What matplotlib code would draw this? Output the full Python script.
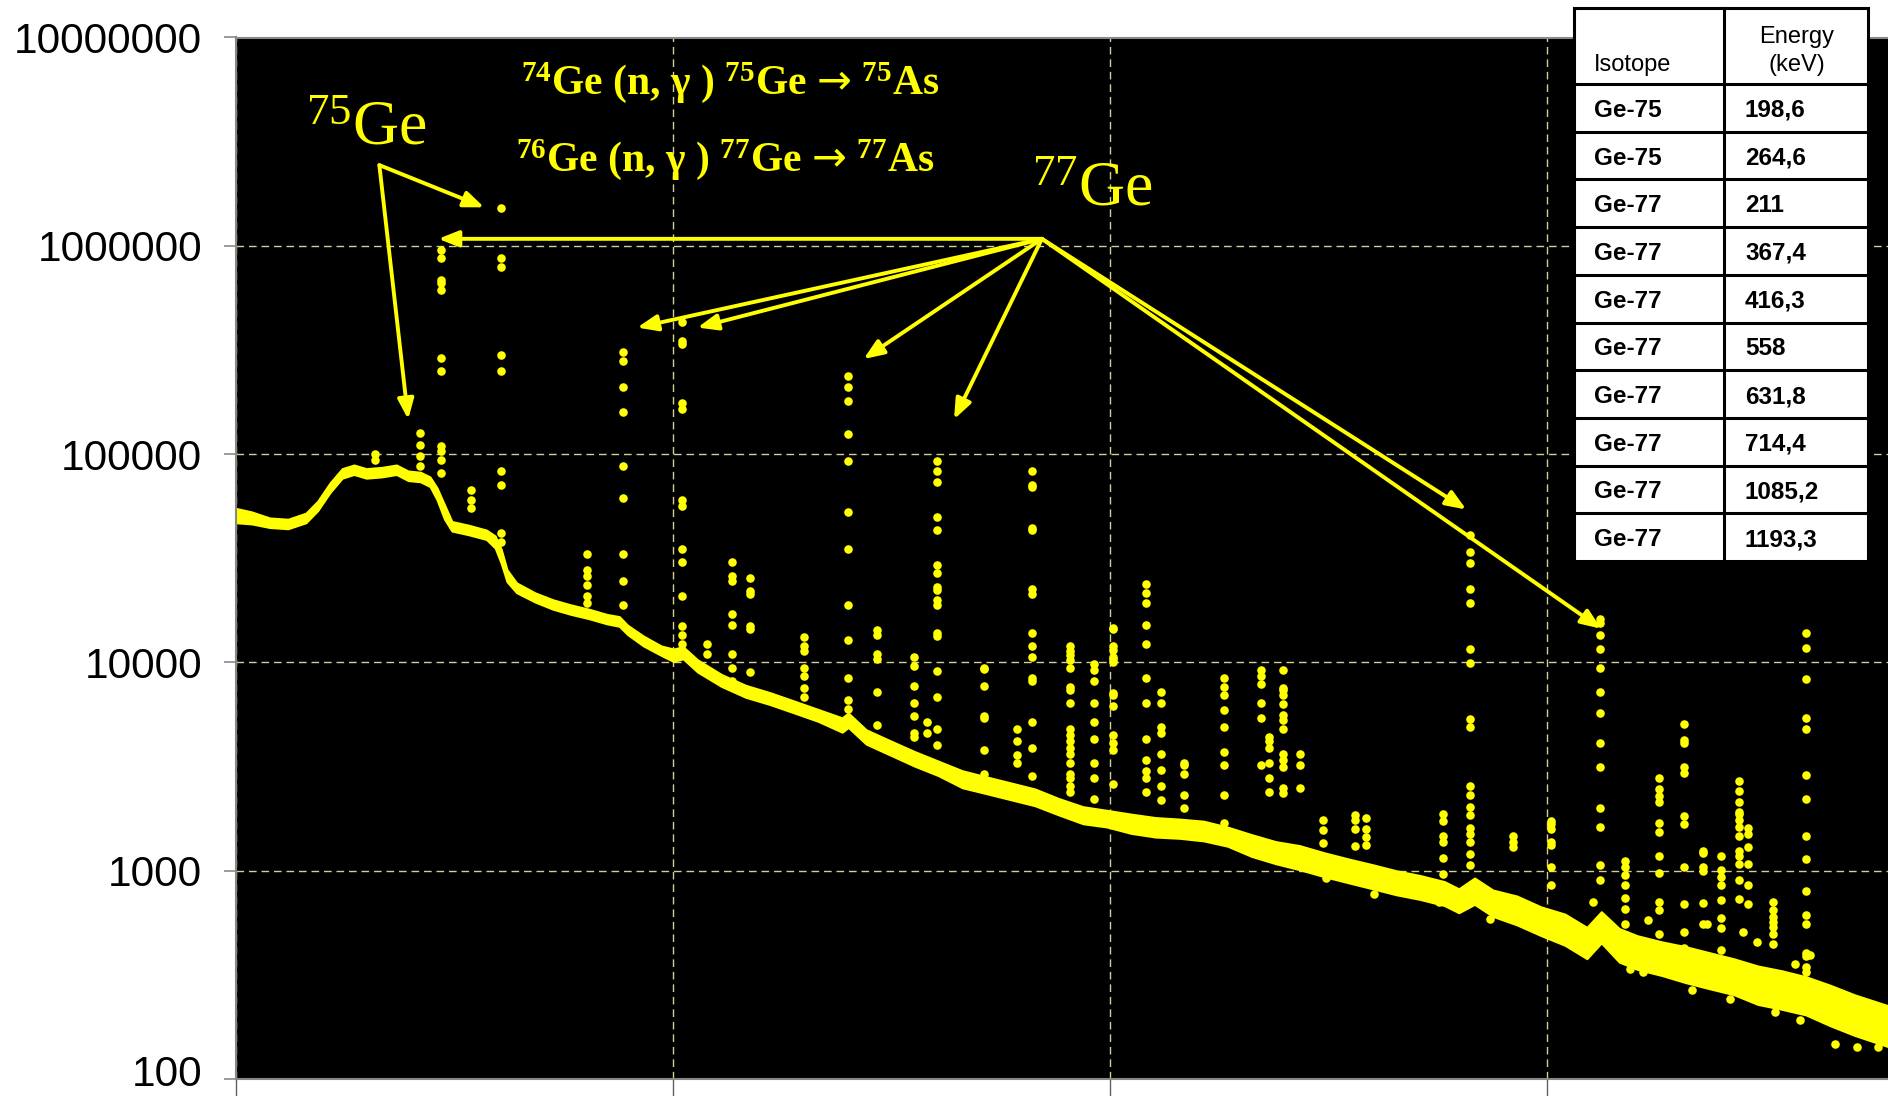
import matplotlib
matplotlib.use('Agg')
import matplotlib.pyplot as plt
from matplotlib.patches import Rectangle
from matplotlib.lines import Line2D
from matplotlib.ticker import FixedLocator, NullLocator, NullFormatter
from matplotlib.transforms import offset_copy

plt.rcParams['mathtext.fontset'] = 'custom'
plt.rcParams['mathtext.rm'] = 'Liberation Serif'
plt.rcParams['mathtext.it'] = 'Liberation Serif:italic'
plt.rcParams['mathtext.bf'] = 'Liberation Serif:bold'
plt.rcParams['mathtext.sf'] = 'DejaVu Sans'

# ---------------- data ----------------
# continuum band of the gamma spectrum: channel, lower / upper edge (counts)
band_ch = [0, 36, 77, 119, 160, 187, 215, 243, 270, 298, 334, 367, 394, 422, 444, 460, 477, 494, 532, 573,
           593, 607, 620, 642, 684, 725, 766, 808, 849, 877, 896, 932, 973, 1001, 1023, 1056, 1111, 1166, 1221, 1277,
           1332, 1387, 1401, 1442, 1497, 1552, 1607, 1662, 1718, 1773, 1828, 1883, 1938, 1993, 2048, 2104, 2159, 2214, 2269, 2324,
           2379, 2434, 2490, 2545, 2600, 2655, 2710, 2765, 2798, 2834, 2876, 2931, 2986, 3041, 3091, 3124, 3165, 3206, 3262, 3317,
           3372, 3427, 3482, 3537, 3592, 3648, 3703, 3780]
band_lo = [46800, 46200, 44400, 43800, 46800, 53500, 65300, 76600, 79800, 76600, 77700, 79800, 74600, 73600, 69800, 60300, 48700, 42700, 41000, 38900,
           35400, 29800, 24400, 21600, 19500, 18000, 17000, 16200, 15300, 14900, 13600, 12000, 10800, 10100, 10400, 8990, 7660, 6800, 6280, 5720,
           5210, 4620, 4870, 4050, 3590, 3180, 2860, 2500, 2340, 2190, 2050, 1850, 1680, 1620, 1510, 1450, 1430, 1390, 1310, 1170,
           1080, 1010, 936, 875, 819, 766, 727, 680, 628, 689, 603, 549, 488, 438, 378, 450, 364, 336, 314, 290,
           271, 254, 228, 216, 203, 180, 162, 143]
band_hi = [54900, 52800, 49400, 48700, 52100, 59500, 72700, 85200, 88700, 85200, 86400, 88700, 83000, 81900, 77700, 68900, 57200, 47500, 45600, 43200,
           40500, 34900, 27900, 24100, 21600, 20000, 18900, 18000, 17000, 16600, 15100, 13400, 12000, 11600, 11900, 10300, 8750, 7770, 7170, 6530,
           5950, 5420, 5720, 4750, 4210, 3740, 3360, 3020, 2820, 2640, 2470, 2220, 2030, 1950, 1870, 1800, 1770, 1730, 1620, 1490,
           1380, 1320, 1220, 1140, 1070, 1000, 948, 887, 819, 923, 808, 756, 671, 619, 535, 636, 528, 488, 456, 432,
           404, 378, 349, 331, 310, 282, 254, 225]

# peaks: channel and the counts of the dots in each peak column
peak_ch = [317, 422, 469, 538, 607, 802, 885, 1020, 1078, 1136,
           1177, 1300, 1401, 1467, 1552, 1580, 1603, 1712, 1787, 1822,
           1908, 1964, 2007, 2083, 2117, 2170, 2261, 2346, 2363, 2396,
           2434, 2487, 2561, 2586, 2762, 2823, 2922, 3008, 3121, 3179,
           3255, 3313, 3357, 3397, 3438, 3460, 3517, 3592]
peak_counts = [
    [100000, 94000],
    [126000, 111000, 97600, 87800],
    [957000, 873000, 684000, 662000, 612000, 290000, 251000, 109000, 103000, 93600, 81000],
    [67000, 60000, 55000],
    [1520000, 873000, 794000, 299000, 251000, 82600, 71300, 41800, 38000],
    [33000, 27700, 26000, 23500, 20800, 19200],
    [309000, 281000, 209000, 160000, 87700, 61500, 33000, 24500, 18800],
    [430000, 349000, 338000, 175000, 165000, 60300, 56400, 34900, 30200, 20800, 14900, 13600, 12300],
    [12300, 11000],
    [30200, 26000, 24500, 17000, 15100, 11000, 9400, 8100],
    [25400, 22000, 21200, 14900, 14500, 9000],
    [13200, 12000, 11300, 9400, 8600, 7500, 6800],
    [236000, 209000, 180000, 125000, 93000, 53000, 34900, 18800, 12800, 8400, 6600, 6000],
    [14300, 13500, 11000, 10400, 7200, 5000],
    [10600, 9600, 7700, 6400, 5500, 4600, 4400],
    [5200, 4600],
    [93000, 82600, 73500, 49900, 43200, 29200, 26800, 23100, 22200, 20000, 18800, 13800, 13400, 9100, 6800, 4800, 4000],
    [9400, 9300, 7700, 5500, 5400, 3800, 2900],
    [4800, 4200, 3600, 3300],
    [83000, 71000, 69700, 44000, 43000, 22400, 21200, 13900, 12000, 10600, 8400, 8100, 5200, 3900, 2860],
    [12000, 11300, 10900, 10300, 9400, 7600, 7400, 6400, 4800, 4500, 4200, 3900, 3650, 3300, 2900, 2800, 2550, 2400],
    [9800, 9200, 8100, 6400, 5200, 4300, 3300, 2800, 2200],
    [14700, 14400, 12000, 11500, 10600, 10400, 10000, 7100, 7000, 6200, 4500, 4100, 3800, 2600],
    [23800, 21600, 19300, 15200, 12300, 8400, 6400, 4300, 3400, 3000, 2800, 2400],
    [7200, 6400, 4900, 4600, 3650, 3060, 2550, 2180],
    [3300, 3200, 2900, 2300, 2000],
    [8400, 7600, 7000, 5900, 4900, 3700, 3200, 2300, 1700],
    [9200, 8600, 7900, 6400, 5400, 3200],
    [4400, 4200, 3900, 3300, 2800, 2400],
    [9200, 7500, 7400, 7000, 6300, 5600, 5300, 4800, 3650, 3400, 3150, 2500, 2350],
    [3650, 3200, 2500],
    [1750, 1560, 1360],
    [1850, 1750, 1580, 1310],
    [1800, 1580, 1450, 1330],
    [1880, 1730, 1460, 1380, 1150, 960],
    [40700, 34000, 30000, 22400, 19300, 11600, 9980, 5360, 4900, 2550, 2320, 2020, 1850, 1600, 1500, 1380, 1200, 1070],
    [1460, 1380, 1300],
    [1730, 1680, 1580, 1380, 1330, 1040, 850],
    [16100, 15500, 13500, 11600, 9400, 7200, 5700, 4100, 3150, 2000, 1630, 1070, 900],
    [1110, 1040, 953, 853, 736, 658, 557],
    [2800, 2480, 2280, 2140, 1690, 1540, 1170, 980, 708, 646, 496],
    [5050, 4240, 4110, 3130, 2940, 1830, 1670, 1040, 689, 508, 426],
    [1250, 1210, 1040, 995, 701, 557],
    [1170, 1010, 935, 853, 726, 594, 528, 415],
    [2690, 2410, 2140, 1910, 1880, 1750, 1630, 1460, 1250, 1170, 1080, 900, 730],
    [1600, 1500, 1300, 1080, 853, 695],
    [708, 646, 600, 568, 537, 499, 447],
    [13900, 11700, 8300, 5400, 4800, 2870, 2200, 1460, 1140, 798, 611, 557, 403, 389, 345, 327],
]

# isolated dots around the continuum
extra_ch = [3189, 3220, 3331, 3418, 3522, 3579, 3659, 3709, 3758, 3105, 3231, 3365, 3449, 3480, 3567, 3602,
            2493, 2604, 2869, 2999, 2753]
extra_counts = [339, 327, 267, 243, 210, 191, 147, 143, 143, 708, 578, 557, 508, 455, 358, 393,
                927, 776, 589, 495, 708]

y_ticks = [100, 1000, 10000, 100000, 1000000, 10000000]
y_ticklabels = ['100', '1000', '10000', '100000', '1000000', '10000000']
x_ticks = [0, 1000, 2000, 3000]

table_isotopes = ['Ge-75', 'Ge-75', 'Ge-77', 'Ge-77', 'Ge-77', 'Ge-77', 'Ge-77', 'Ge-77', 'Ge-77', 'Ge-77']
table_energies = ['198,6', '264,6', '211', '367,4', '416,3', '558', '631,8', '714,4', '1085,2', '1193,3']

# ---------------- figure ----------------
W, H = 1888, 1096
YEL = '#FFFF00'
fig = plt.figure(figsize=(W / 100, H / 100), dpi=100)
fig.patch.set_facecolor('white')
ax = fig.add_axes([236 / W, 17 / H, 1 - 236 / W, (1079 - 37.5) / H])
ax.set_facecolor('black')
ax.set_yscale('log')
ax.set_ylim(100, 1e7)
ax.set_xlim(0, 3780)

ax.yaxis.set_major_locator(FixedLocator(y_ticks))
ax.yaxis.set_major_formatter(NullFormatter())
ax.yaxis.set_minor_locator(NullLocator())
ax.yaxis.set_minor_formatter(NullFormatter())
ax.xaxis.set_major_locator(FixedLocator(x_ticks))
ax.xaxis.set_major_formatter(NullFormatter())
ax.xaxis.set_minor_locator(NullLocator())
ax.tick_params(axis='y', direction='out', length=8.5, width=1.1, color='#808080')
ax.tick_params(axis='x', direction='out', length=12, width=1.0, color='#606060')

# y tick labels as texts (the lowest one nudged up so it stays inside the picture)
for v, lab in zip(y_ticks, y_ticklabels):
    dy = 8 if v == 100 else 0
    tr = offset_copy(ax.get_yaxis_transform(), fig=fig, x=-34, y=dy, units='dots')
    ax.text(0, v, lab, transform=tr, ha='right', va='center_baseline', fontsize=30.5,
            family=['Liberation Sans', 'DejaVu Sans'], color='black', clip_on=False)

ax.grid(True, which='major', color='#CFCF9A', linestyle=(0, (5.5, 3.5)), linewidth=1.0, zorder=1)
ax.set_axisbelow(True)
for s in ['left', 'bottom', 'top']:
    ax.spines[s].set_color('#888888')
    ax.spines[s].set_linewidth(1.5)
ax.spines['right'].set_visible(False)

# continuum band
ax.fill_between(band_ch, band_lo, band_hi, color=YEL, linewidth=1.4, edgecolor=YEL, zorder=2)

# peak dots
for ch, counts in zip(peak_ch, peak_counts):
    ax.scatter([ch] * len(counts), counts, s=38, color=YEL, linewidths=0, zorder=3)
ax.scatter(extra_ch, extra_counts, s=38, color=YEL, linewidths=0, zorder=3)

# arrows
aprops = dict(arrowstyle='-|>,head_length=0.55,head_width=0.22', color=YEL, lw=2.8,
              mutation_scale=22, shrinkA=0, shrinkB=0)
ge75_origin = (328, 2.44e6)
for tip in [(568, 1.53e6), (394, 1.47e5)]:
    ax.annotate('', xy=tip, xytext=ge75_origin, arrowprops=aprops, zorder=5, annotation_clip=False)
ge77_origin = (1844, 1.08e6)
for tip in [(463, 1.08e6), (918, 4.05e5), (1056, 4.05e5), (1436, 2.86e5), (1643, 1.47e5),
            (2815, 5.42e4), (3124, 1.45e4)]:
    ax.annotate('', xy=tip, xytext=ge77_origin, arrowprops=aprops, zorder=5, annotation_clip=False)

# labels
serif = ['Liberation Serif', 'DejaVu Serif']
ax.text(298, 3.6e6, r'$^{75}$Ge', fontsize=46, family=serif, color=YEL, ha='center', va='center', zorder=6)
ax.text(1960, 1.84e6, r'$^{77}$Ge', fontsize=46, family=serif, color=YEL, ha='center', va='center', zorder=6)
ax.text(1130, 6.1e6, r'$^{\mathbf{74}}$Ge (n, γ ) $^{\mathbf{75}}$Ge $\mathsf{→}$ $^{\mathbf{75}}$As',
        fontsize=30, family=serif, fontweight='bold', color=YEL, ha='center', va='center', zorder=6)
ax.text(1119, 2.6e6, r'$^{\mathbf{76}}$Ge (n, γ ) $^{\mathbf{77}}$Ge $\mathsf{→}$ $^{\mathbf{77}}$As',
        fontsize=30, family=serif, fontweight='bold', color=YEL, ha='center', va='center', zorder=6)

# ---------------- table ----------------
tx0, tx1, txm = 1574 / W, 1868 / W, 1724 / W
top_px, head_px, row_px = 8, 84, 47.7
n_rows = len(table_isotopes)
bot_px = head_px + row_px * n_rows
fy = lambda p: 1 - p / H
fig.add_artist(Rectangle((tx0, fy(bot_px)), tx1 - tx0, (bot_px - top_px) / H, transform=fig.transFigure,
                         facecolor='white', edgecolor='black', linewidth=2.2, zorder=10))
fig.add_artist(Line2D([txm, txm], [fy(top_px), fy(bot_px)], transform=fig.transFigure,
                      color='black', linewidth=2.2, zorder=11))
for i in range(n_rows):
    yline = head_px + row_px * i
    fig.add_artist(Line2D([tx0, tx1], [fy(yline), fy(yline)], transform=fig.transFigure,
                          color='black', linewidth=2.2, zorder=11))
sans = ['Liberation Sans', 'DejaVu Sans']
fig.text(1594 / W, fy(62), 'Isotope', fontsize=17, family=sans, ha='left', va='center_baseline', zorder=12)
fig.text(1797 / W, fy(34), 'Energy', fontsize=17, family=sans, ha='center', va='center_baseline', zorder=12)
fig.text(1797 / W, fy(62), '(keV)', fontsize=17, family=sans, ha='center', va='center_baseline', zorder=12)
for i, (iso, en) in enumerate(zip(table_isotopes, table_energies)):
    yc = fy(head_px + row_px * (i + 0.5))
    fig.text(1594 / W, yc, iso, fontsize=17.5, family=sans, fontweight='bold', ha='left', va='center_baseline', zorder=12)
    fig.text(1745 / W, yc, en, fontsize=17.5, family=sans, fontweight='bold', ha='left', va='center_baseline', zorder=12)

fig.savefig('out.png', dpi=100, facecolor='white')
